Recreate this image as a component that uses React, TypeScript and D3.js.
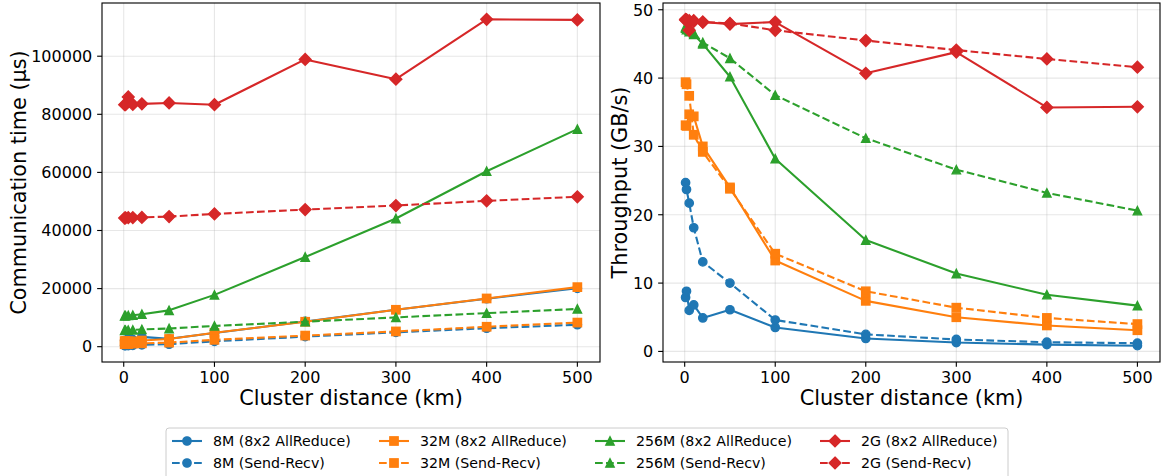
import React from "react";
import * as d3 from "d3";

// ---------- data ----------
const distanceKm = [1, 2, 5, 10, 20, 50, 100, 200, 300, 400, 500];

const seriesNames = [
  "8M (8x2 AllReduce)",
  "8M (Send-Recv)",
  "32M (8x2 AllReduce)",
  "32M (Send-Recv)",
  "256M (8x2 AllReduce)",
  "256M (Send-Recv)",
  "2G (8x2 AllReduce)",
  "2G (Send-Recv)",
];

// Communication time (µs)
const time8M_AR = [2090, 1880, 2750, 2430, 3370, 2700, 4710, 8680, 12700, 16500, 20100];
const time8M_SR = [345, 360, 395, 470, 650, 850, 1850, 3450, 4950, 6350, 7550];
const time32M_AR = [1920, 1925, 1830, 1850, 2120, 2650, 4770, 8580, 12700, 16600, 20500];
const time32M_SR = [853, 860, 900, 1060, 1150, 1410, 2350, 3820, 5250, 6860, 8300];
const time256M_AR = [10630, 10680, 10750, 10840, 11180, 12510, 17840, 30860, 44120, 60400, 74900];
const time256M_SR = [5650, 5670, 5710, 5760, 5940, 6250, 7150, 8590, 10080, 11550, 13000];
const time2G_AR = [83300, 83300, 86000, 83400, 83600, 83900, 83300, 98900, 92100, 112700, 112500];
const time2G_SR = [44300, 44350, 44400, 44450, 44500, 44800, 45700, 47200, 48600, 50200, 51600];

// Throughput (GB/s)
const tput8M_AR = [7.9, 8.8, 6.0, 6.8, 4.9, 6.1, 3.5, 1.9, 1.3, 1.0, 0.84];
const tput8M_SR = [24.7, 23.7, 21.7, 18.1, 13.1, 10.0, 4.6, 2.5, 1.75, 1.35, 1.2];
const tput32M_AR = [33.1, 33.0, 34.7, 34.4, 30.0, 24.0, 13.3, 7.4, 5.0, 3.8, 3.1];
const tput32M_SR = [39.4, 39.1, 37.4, 31.7, 29.2, 23.8, 14.3, 8.8, 6.4, 4.9, 4.0];
const tput256M_AR = [47.3, 47.1, 46.8, 46.4, 45.0, 40.2, 28.2, 16.3, 11.4, 8.3, 6.7];
const tput256M_SR = [47.5, 47.3, 47.0, 46.6, 45.2, 42.9, 37.5, 31.2, 26.6, 23.2, 20.6];
const tput2G_AR = [48.5, 48.5, 47.0, 48.4, 48.2, 47.9, 48.2, 40.7, 43.8, 35.7, 35.8];
const tput2G_SR = [48.6, 48.5, 48.4, 48.3, 48.2, 48.0, 47.0, 45.5, 44.1, 42.8, 41.6];

const xTicks = [0, 100, 200, 300, 400, 500];
const timeTicks = [0, 20000, 40000, 60000, 80000, 100000];
const tputTicks = [0, 10, 20, 30, 40, 50];

const colors = ["#1f77b4", "#1f77b4", "#ff7f0e", "#ff7f0e", "#2ca02c", "#2ca02c", "#d62728", "#d62728"];
const markers = ["o", "o", "s", "s", "^", "^", "D", "D"];
const dashedFlags = [false, true, false, true, false, true, false, true];

const timeSeries = [time8M_AR, time8M_SR, time32M_AR, time32M_SR, time256M_AR, time256M_SR, time2G_AR, time2G_SR];
const tputSeries = [tput8M_AR, tput8M_SR, tput32M_AR, tput32M_SR, tput256M_AR, tput256M_SR, tput2G_AR, tput2G_SR];

// ---------- styling ----------
const FONT = "DejaVu Sans, sans-serif";
const PX = 100 / 72; // points -> px at 100 dpi
const LW = 1.5 * PX;
const MS = 6 * PX;
const MEW = 1 * PX;
const DASH = `${3.7 * LW} ${1.6 * LW}`;

function Marker({ type, x, y, color }: { type: string; x: number; y: number; color: string }) {
  const s = MS;
  if (type === "o") return <circle cx={x} cy={y} r={s / 2} fill={color} stroke={color} strokeWidth={MEW} />;
  if (type === "s")
    return <rect x={x - s / 2} y={y - s / 2} width={s} height={s} fill={color} stroke={color} strokeWidth={MEW} />;
  if (type === "^") {
    const h = s / 2;
    return (
      <path d={`M${x},${y - h}L${x - h},${y + h}L${x + h},${y + h}Z`} fill={color} stroke={color} strokeWidth={MEW} strokeLinejoin="miter" />
    );
  }
  const d = (s * Math.SQRT2) / 2;
  return <path d={`M${x},${y - d}L${x + d},${y}L${x},${y + d}L${x - d},${y}Z`} fill={color} stroke={color} strokeWidth={MEW} />;
}

function marginDomain(vals: number[]): [number, number] {
  const lo = d3.min(vals)!;
  const hi = d3.max(vals)!;
  const m = (hi - lo) * 0.05;
  return [lo - m, hi + m];
}

function Panel({
  x0,
  x1,
  y0,
  y1,
  data,
  yTicks,
  yLabel,
  yLabelX,
  yTickFmt,
}: {
  x0: number;
  x1: number;
  y0: number;
  y1: number;
  data: number[][];
  yTicks: number[];
  yLabel: string;
  yLabelX: number;
  yTickFmt: (v: number) => string;
}) {
  const x = d3.scaleLinear().domain(marginDomain(distanceKm)).range([x0, x1]);
  const y = d3.scaleLinear().domain(marginDomain(data.flat())).range([y1, y0]);
  const line = d3
    .line<number>()
    .x((_, i) => x(distanceKm[i]))
    .y((v) => y(v));
  const spine = "#000";
  const sw = 0.8 * PX;
  return (
    <g>
      {/* grid */}
      {xTicks.map((t) => (
        <line key={"gx" + t} x1={x(t)} x2={x(t)} y1={y0} y2={y1} stroke="#b0b0b0" strokeOpacity={0.3} strokeWidth={0.8 * PX} />
      ))}
      {yTicks.map((t) => (
        <line key={"gy" + t} x1={x0} x2={x1} y1={y(t)} y2={y(t)} stroke="#b0b0b0" strokeOpacity={0.3} strokeWidth={0.8 * PX} />
      ))}
      {/* series */}
      {data.map((vals, si) => (
        <g key={"s" + si}>
          <path
            d={line(vals) || ""}
            fill="none"
            stroke={colors[si]}
            strokeWidth={LW}
            strokeDasharray={dashedFlags[si] ? DASH : undefined}
            strokeLinejoin="round"
          />
          {vals.map((v, i) => (
            <Marker key={i} type={markers[si]} x={x(distanceKm[i])} y={y(v)} color={colors[si]} />
          ))}
        </g>
      ))}
      {/* spines */}
      <rect x={x0} y={y0} width={x1 - x0} height={y1 - y0} fill="none" stroke={spine} strokeWidth={sw} />
      {/* x ticks */}
      {xTicks.map((t) => (
        <g key={"xt" + t}>
          <line x1={x(t)} x2={x(t)} y1={y1} y2={y1 + 3.5 * PX} stroke={spine} strokeWidth={sw} />
          <text x={x(t)} y={383} textAnchor="middle" fontFamily={FONT} fontSize={16} fill="#000">
            {t}
          </text>
        </g>
      ))}
      {/* y ticks */}
      {yTicks.map((t) => (
        <g key={"yt" + t}>
          <line x1={x0 - 3.5 * PX} x2={x0} y1={y(t)} y2={y(t)} stroke={spine} strokeWidth={sw} />
          <text x={x0 - 3.5 * PX - 4.9} y={y(t)} dy="0.36em" textAnchor="end" fontFamily={FONT} fontSize={16} fill="#000">
            {yTickFmt(t)}
          </text>
        </g>
      ))}
      <text x={(x0 + x1) / 2} y={405} textAnchor="middle" fontFamily={FONT} fontSize={20.8} fill="#000">
        Cluster distance (km)
      </text>
      <text
        transform={`translate(${yLabelX},${(y0 + y1) / 2}) rotate(-90)`}
        textAnchor="middle"
        fontFamily={FONT}
        fontSize={20.8}
        fill="#000"
      >
        {yLabel}
      </text>
    </g>
  );
}

function Legend() {
  const handleX = [172, 379, 595, 820];
  const rowY = [441, 463];
  return (
    <g>
      <rect x={166} y={428} width={842} height={52} rx={3} fill="#fff" fillOpacity={0.8} stroke="#cccccc" strokeWidth={1} />
      {seriesNames.map((name, i) => {
        const col = Math.floor(i / 2);
        const row = i % 2;
        const hx = handleX[col];
        const hy = rowY[row];
        return (
          <g key={name}>
            <line
              x1={hx}
              x2={hx + 30}
              y1={hy}
              y2={hy}
              stroke={colors[i]}
              strokeWidth={LW}
              strokeDasharray={dashedFlags[i] ? DASH : undefined}
            />
            <Marker type={markers[i]} x={hx + 15} y={hy} color={colors[i]} />
            <text x={hx + 41} y={hy} dy="0.36em" fontFamily={FONT} fontSize={14.2} fill="#000">
              {name}
            </text>
          </g>
        );
      })}
    </g>
  );
}

export default function App() {
  return (
    <svg
      width={1161}
      height={476}
      style={{ position: "absolute", left: 0, top: 0, background: "#fff" }}
      xmlns="http://www.w3.org/2000/svg"
    >
      <rect x={0} y={0} width={1161} height={476} fill="#fff" />
      <Panel
        x0={102}
        x1={600}
        y0={3}
        y1={362}
        data={timeSeries}
        yTicks={timeTicks}
        yLabel="Communication time (µs)"
        yLabelX={26}
        yTickFmt={(v) => String(v)}
      />
      <Panel
        x0={663}
        x1={1160}
        y0={3}
        y1={362}
        data={tputSeries}
        yTicks={tputTicks}
        yLabel="Throughput (GB/s)"
        yLabelX={627}
        yTickFmt={(v) => String(v)}
      />
      <Legend />
    </svg>
  );
}
